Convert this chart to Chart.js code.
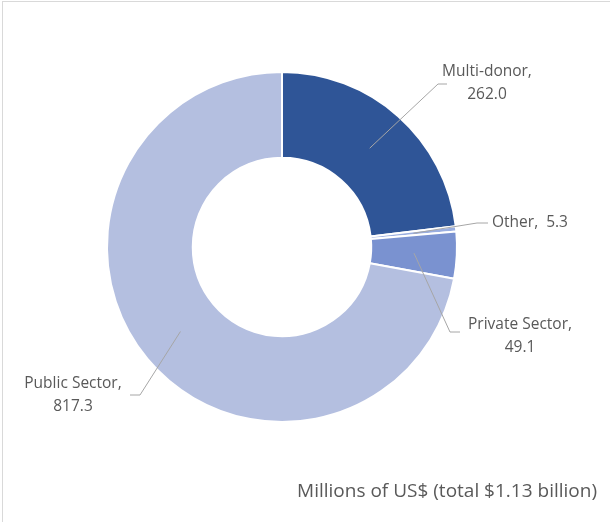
<!DOCTYPE html>
<html>
<head>
<meta charset="utf-8">
<script src="https://cdn.jsdelivr.net/npm/chart.js@4.4.1/dist/chart.umd.min.js"></script>
<style>
  html, body { margin: 0; padding: 0; background: #fff; }
  #wrap { position: relative; width: 610px; height: 522px; }
  #frame { position: absolute; left: 2px; top: 1px; width: 610px; height: 522px; border: 1px solid #d9d9d9; box-sizing: border-box; pointer-events: none; }
</style>
</head>
<body>
<div id="wrap">
  <canvas id="donut" width="610" height="522"></canvas>
  <div id="frame"></div>
</div>
<script>
// data (millions of US$)
const categories = ['Multi-donor', 'Other', 'Private Sector', 'Public Sector'];
const amounts = [262.0, 5.3, 49.1, 817.3];
const sliceColors = ['#2F5597', '#9AAEE0', '#7A92D0', '#B4BFE0'];
const subtitle = 'Millions of US$ (total $1.13 billion)';

// where each label sits: elbow of leader line, end of leader line, text position, alignment
const labelLayout = [
  { elbow: [438, 84], end: [447, 84], text: [487, 72], align: 'center', lines: 2 },
  { elbow: [477, 223], end: [488, 223], text: [492, 223], align: 'left', lines: 1 },
  { elbow: [450, 332], end: [460, 332], text: [520, 325], align: 'center', lines: 2 },
  { elbow: [140, 395], end: [130, 395], text: [73, 384], align: 'center', lines: 2 }
];

const FONT = '15.5px "Open Sans", sans-serif';
const TEXT = '#595959';

const calloutPlugin = {
  id: 'callouts',
  afterDatasetsDraw(chart) {
    const ctx = chart.ctx;
    const meta = chart.getDatasetMeta(0);
    ctx.save();
    meta.data.forEach((arc, i) => {
      const p = arc.tooltipPosition();
      const lay = labelLayout[i];
      ctx.strokeStyle = '#a6a6a6';
      ctx.lineWidth = 1;
      ctx.beginPath();
      ctx.moveTo(p.x, p.y);
      ctx.lineTo(lay.elbow[0], lay.elbow[1]);
      ctx.lineTo(lay.end[0], lay.end[1]);
      ctx.stroke();

      ctx.fillStyle = TEXT;
      ctx.font = FONT;
      ctx.textBaseline = 'middle';
      ctx.textAlign = lay.align;
      const val = amounts[i].toFixed(1);
      if (lay.lines === 1) {
        ctx.fillText(categories[i] + ',  ' + val, lay.text[0], lay.text[1]);
      } else {
        ctx.fillText(categories[i] + ',', lay.text[0], lay.text[1]);
        ctx.fillText(val, lay.text[0], lay.text[1] + 23);
      }
    });
    // units note bottom right
    ctx.font = '19px "Open Sans", sans-serif';
    ctx.textAlign = 'right';
    ctx.textBaseline = 'middle';
    ctx.fillStyle = TEXT;
    ctx.fillText(subtitle, 597, 492);
    ctx.restore();
  }
};

new Chart(document.getElementById('donut'), {
  type: 'doughnut',
  data: {
    labels: categories,
    datasets: [{
      data: amounts,
      backgroundColor: sliceColors,
      borderColor: '#ffffff',
      borderWidth: 2
    }]
  },
  options: {
    responsive: false,
    animation: false,
    cutout: '51%',
    layout: { padding: { left: 106, right: 152, top: 71, bottom: 99 } },
    plugins: {
      legend: { display: false },
      tooltip: { enabled: false }
    }
  },
  plugins: [calloutPlugin]
});
</script>
</body>
</html>
